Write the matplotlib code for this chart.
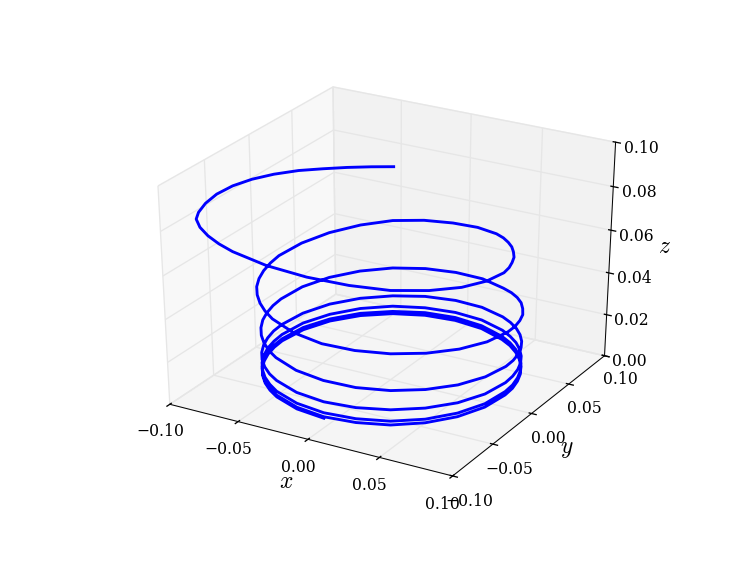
import matplotlib
matplotlib.use('Agg')
import matplotlib.pyplot as plt

plt.style.use('classic')
plt.rcParams['font.family'] = 'DejaVu Serif'
plt.rcParams['mathtext.fontset'] = 'cm'

# opening sweep of the spiral
x_start = [-.0353, -.0478, -.0610, -.0737, -.0858, -.0964, -.1042, -.1093, -.1109, -.1091, -.1049]
y_start = [.0649, .0588, .0512, .0429, .0337, .0215, .0083, -.0060, -.0218, -.0373, -.0515]
z_start = [.0792, .0789, .0786, .0782, .0779, .0776, .0773, .0769, .0766, .0763, .0762]

# rest of the first turn
x_turn1 = [-.1011, -.0937, -.0842, -.0734, -.0614, -.0357, -.0089, .0165,
           .0390, .0572, .0698, .0766, .0779, .0762, .0732, .0695,
           .0644, .0587, .0521, .0449, .0368, .0189, -.0005, -.0201]
y_turn1 = [-.0600, -.0673, -.0733, -.0781, -.0817, -.0850, -.0835, -.0775,
           -.0678, -.0539, -.0372, -.0188, .0007, .0105, .0199, .0294,
           .0382, .0468, .0547, .0618, .0678, .0763, .0794, .0771]
z_turn1 = [.0757, .0748, .0738, .0729, .0720, .0703, .0687, .0672,
           .0658, .0649, .0639, .0630, .0620, .0616, .0611, .0606,
           .0602, .0595, .0587, .0580, .0573, .0557, .0543, .0534]

x_turn2 = [-.0385, -.0547, -.0678, -.0763, -.0800, -.0796, -.0780, -.0751,
           -.0708, -.0650, -.0580, -.0501, -.0412, -.0216, -.0004, .0206,
           .0403, .0572, .0703, .0785, .0813, .0806, .0785, .0752,
           .0702, .0644, .0574, .0495, .0407, .0213, .0004, -.0205]
y_turn2 = [.0693, .0566, .0399, .0202, -.0010, -.0118, -.0223, -.0324,
           -.0420, -.0507, -.0587, -.0656, -.0715, -.0793, -.0816, -.0784,
           -.0700, -.0567, -.0396, -.0199, .0013, .0118, .0222, .0323,
           .0417, .0506, .0587, .0658, .0717, .0800, .0828, .0801]
z_turn2 = [.0526, .0513, .0499, .0486, .0474, .0467, .0460, .0453,
           .0446, .0439, .0432, .0425, .0418, .0406, .0394, .0387,
           .0380, .0373, .0366, .0359, .0352, .0348, .0345, .0341,
           .0337, .0333, .0326, .0319, .0312, .0307, .0300, .0295]

# then it closes in on a loop, first a bit flatter, later the final one
x_loop_a = [-.0400, -.0567, -.0694, -.0774, -.0801, -.0794, -.0773, -.0739,
            -.0692, -.0633, -.0563, -.0483, -.0395, -.0201, .0008, .0217,
            .0411, .0577, .0705, .0785, .0812, .0804, .0783, .0749,
            .0702, .0643, .0574, .0494, .0406, .0211, .0003, -.0206]
y_loop_a = [.0720, .0588, .0417, .0217, .0003, -.0105, -.0211, -.0314,
            -.0411, -.0501, -.0582, -.0654, -.0714, -.0796, -.0824, -.0796,
            -.0713, -.0582, -.0410, -.0211, .0004, .0112, .0218, .0320,
            .0417, .0507, .0589, .0660, .0720, .0803, .0831, .0802]
x_loop_b = [-.0412, -.0578, -.0704, -.0782, -.0807, -.0798, -.0776, -.0740,
            -.0692, -.0631, -.0560, -.0479, -.0390, -.0193, .0018, .0228,
            .0422, .0588, .0715, .0793, .0817, .0809, .0786, .0751,
            .0702, .0642, .0571, .0490, .0400, .0203, -.0007, -.0217]
y_loop_b = [.0740, .0608, .0434, .0231, .0013, -.0097, -.0206, -.0311,
            -.0411, -.0503, -.0587, -.0661, -.0724, -.0810, -.0842, -.0815,
            -.0733, -.0601, -.0428, -.0225, -.0007, .0104, .0213, .0318,
            .0417, .0510, .0594, .0668, .0730, .0817, .0848, .0822]
z_tail = [.0290, .0284, .0278, .0272, .0265, .0262, .0259, .0257,
          .0253, .0250, .0247, .0243, .0240, .0234, .0228, .0221,
          .0215, .0210, .0204, .0199, .0193, .0190, .0187, .0185,
          .0182, .0180, .0177, .0175, .0173, .0168, .0163, .0159,
          .0154, .0151, .0148, .0144, .0141, .0140, .0138, .0136,
          .0135, .0134, .0133, .0132, .0132, .0130, .0128, .0127,
          .0125, .0123, .0120, .0118, .0116, .0115, .0114, .0112,
          .0111, .0110, .0109, .0108, .0108, .0106, .0104, .0103,
          .0096, .0094, .0092, .0091, .0089, .0088, .0088, .0087,
          .0086, .0086, .0085, .0085, .0084, .0084, .0083, .0082,
          .0079, .0078, .0078, .0077, .0077, .0076, .0076, .0076,
          .0075, .0075, .0074, .0074, .0074, .0073, .0073, .0072,
          .0070, .0070, .0069, .0069, .0068, .0068, .0068, .0067,
          .0067, .0067, .0066, .0066, .0065, .0065, .0064, .0064,
          .0061, .0061, .0061, .0061, .0061, .0060, .0060, .0060,
          .0060, .0060, .0060, .0060, .0059, .0059, .0059, .0059,
          .0059, .0059, .0059, .0058, .0058, .0058, .0058, .0058,
          .0058, .0058, .0057, .0057, .0057, .0057, .0057]

x = x_start + x_turn1 + x_turn2 + x_loop_a * 2 + x_loop_b * 2 + x_loop_b[:15]
y = y_start + y_turn1 + y_turn2 + y_loop_a * 2 + y_loop_b * 2 + y_loop_b[:15]
z = z_start + z_turn1 + z_turn2 + z_tail

xy_ticks = [-0.10, -0.05, 0.00, 0.05, 0.10]
z_ticks = [0.00, 0.02, 0.04, 0.06, 0.08, 0.10]

fig = plt.figure(figsize=(747.01 / 94, 561.01 / 94), dpi=94, facecolor='white')
ax = fig.add_subplot(111, projection='3d')
# old mplot3d look: cube stretched to fill the whole axes box
ax.set_box_aspect((1, 1, 0.985), zoom=0.943)
ax.apply_aspect = lambda position=None: ax._set_position(ax.get_position(original=True), 'active')
ax.plot(x, y, z, color='b', lw=2.2)

ax.set_xlim(-0.1, 0.1)
ax.set_ylim(-0.1, 0.1)
ax.set_zlim(0, 0.1)
ax.set_xticks(xy_ticks)
ax.set_yticks(xy_ticks)
ax.set_zticks(z_ticks)
ax.set_xlabel('$x$', fontsize=18)
ax.set_ylabel('$y$', fontsize=18)
ax.set_zlabel('$z$', fontsize=18)

fig.savefig('out.png', dpi=94, facecolor='white')
